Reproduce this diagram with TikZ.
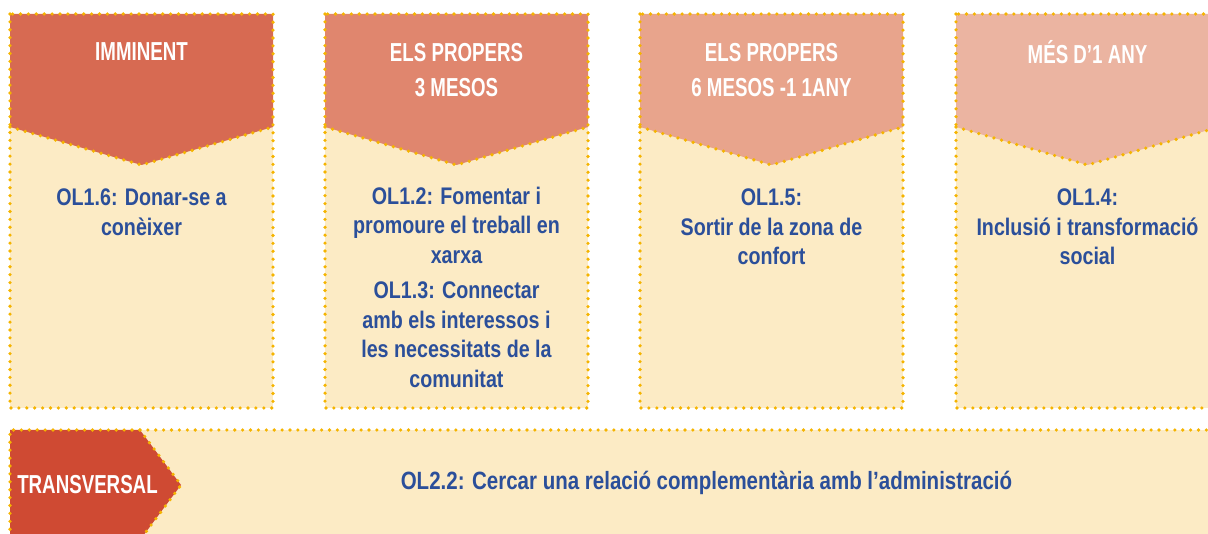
\documentclass[tikz,border=0pt]{standalone}
\usepackage{fontspec}
\newfontfamily\headfont[FakeStretch=0.72]{Liberation Sans}
\newfontfamily\goalfont[FakeStretch=0.82]{Liberation Sans}
\definecolor{cream}{HTML}{FCEBC5}
\definecolor{dotyellow}{HTML}{F5B400}
\definecolor{goalblue}{HTML}{2B4F9A}
\definecolor{headA}{HTML}{D76A52}
\definecolor{headB}{HTML}{E0866E}
\definecolor{headC}{HTML}{E8A48C}
\definecolor{headD}{HTML}{EBB4A1}
\definecolor{transred}{HTML}{CF4A33}

\begin{document}
\begin{tikzpicture}[x=1pt,y=-1pt,
    dots/.style={draw=dotyellow,line width=3.6pt,line cap=round,dash pattern=on 0pt off 7.9pt},
    head text/.style={text=white,font=\headfont\bfseries\fontsize{26}{35}\selectfont,align=center},
    goal text/.style={text=goalblue,font=\goalfont\bfseries\fontsize{24}{29.5}\selectfont,align=center}]
  \useasboundingbox (0,0) rectangle (1208,534);

  % imminent
  \fill[cream] (10,14) rectangle (273,408);
  \fill[headA] (10,14) -- (273,14) -- (273,127) -- (141.5,165) -- (10,127) -- cycle;
  \draw[dots] (10,14) rectangle (273,408);
  \draw[dots] (10,127) -- (141.5,165) -- (273,127);
  \node[head text] (imminent) at (141.5,52) {IMMINENT};
  \node[goal text] (ol16) at (141.5,212) {OL1.6: Donar-se a\\conèixer};

  % els propers 3 mesos
  \fill[cream] (325,14) rectangle (588,408);
  \fill[headB] (325,14) -- (588,14) -- (588,127) -- (456.5,165) -- (325,127) -- cycle;
  \draw[dots] (325,14) rectangle (588,408);
  \draw[dots] (325,127) -- (456.5,165) -- (588,127);
  \node[head text] (tres) at (456.5,70) {ELS PROPERS\\3 MESOS};
  \node[goal text] (ol12) at (456.5,287) {OL1.2: Fomentar i\\promoure el treball en\\xarxa\\[6pt]
    OL1.3: Connectar\\amb els interessos i\\les necessitats de la\\comunitat};

  % els propers 6 mesos
  \fill[cream] (640,14) rectangle (903,408);
  \fill[headC] (640,14) -- (903,14) -- (903,127) -- (771.5,165) -- (640,127) -- cycle;
  \draw[dots] (640,14) rectangle (903,408);
  \draw[dots] (640,127) -- (771.5,165) -- (903,127);
  \node[head text] (sis) at (771.5,70) {ELS PROPERS\\6 MESOS -1 1ANY};
  \node[goal text] (ol15) at (771.5,227) {OL1.5:\\Sortir de la zona de\\confort};

  % mes d'1 any
  \fill[cream] (956,14) rectangle (1219,408);
  \fill[headD] (956,14) -- (1219,14) -- (1219,127) -- (1087.5,165) -- (956,127) -- cycle;
  \draw[dots] (956,14) rectangle (1219,408);
  \draw[dots] (956,127) -- (1087.5,165) -- (1219,127);
  \node[head text] (any) at (1087.5,52) {MÉS D’1 ANY};
  \node[goal text] (ol14) at (1087.5,227) {OL1.4:\\Inclusió i transformació\\social};

  % transversal
  \fill[cream] (10,430) rectangle (1230,545);
  \fill[transred] (10,430) -- (140,430) -- (181,485) -- (140,540) -- (10,540) -- cycle;
  \draw[dots] (10,545) -- (10,430) -- (1230,430);
  \draw[dots] (140,430) -- (181,485) -- (140,540);
  \node[head text] (transversal) at (87.5,485) {TRANSVERSAL};
  \node[goal text, font=\goalfont\bfseries\fontsize{25}{29.5}\selectfont] (ol22) at (706.5,483)
    {OL2.2: Cercar una relació complementària amb l’administració};
\end{tikzpicture}
\end{document}
